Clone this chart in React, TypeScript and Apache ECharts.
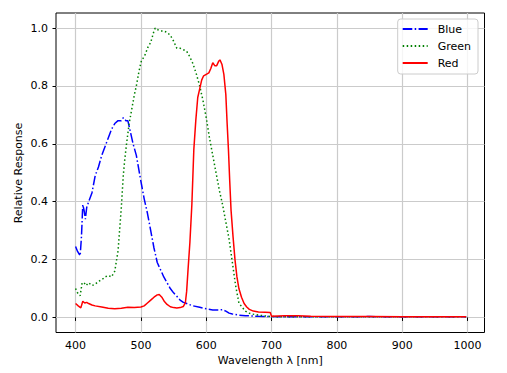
import React, { useEffect, useRef } from "react";
import * as echarts from "echarts";

const seriesNames = ["Blue", "Green", "Red"];
const xTicks = [400, 500, 600, 700, 800, 900, 1000];
const yTicks = [0, 0.2, 0.4, 0.6, 0.8, 1.0];
const yTitle = "Relative Response";

const blueWavelengths = [400,403,407,409,411,413,415,417,420,425,430,435,440,445,450,455,460,465,470,473,477,480,483,488,493,500,505,510,515,520,525,530,535,540,545,550,555,560,565,570,580,590,600,610,620,625,630,635,640,645,650,660,670,680,700,750,800,850,900,950,998];
const blueValues = [0.245,0.228,0.213,0.28,0.39,0.37,0.34,0.38,0.40,0.43,0.49,0.52,0.56,0.59,0.62,0.65,0.67,0.68,0.68,0.69,0.68,0.68,0.65,0.60,0.56,0.47,0.41,0.36,0.30,0.24,0.19,0.165,0.14,0.12,0.10,0.085,0.073,0.06,0.052,0.048,0.04,0.035,0.03,0.026,0.026,0.027,0.022,0.015,0.012,0.01,0.008,0.006,0.005,0.004,0.003,0.002,0.002,0.003,0.002,0.002,0.002];

const greenWavelengths = [400,403,407,410,413,416,420,425,430,435,440,445,450,455,460,465,470,473,475,478,482,486,490,493,497,501,505,511,515,520,522,525,530,535,540,545,550,555,560,565,570,575,580,585,590,595,600,605,610,615,620,625,630,635,640,645,650,655,660,665,670,680,690,700,750,800,850,900,950,998];
const greenValues = [0.10,0.085,0.075,0.12,0.12,0.11,0.12,0.11,0.115,0.125,0.13,0.14,0.145,0.14,0.16,0.23,0.38,0.49,0.54,0.60,0.67,0.72,0.77,0.80,0.85,0.89,0.90,0.935,0.95,0.99,1.0,0.995,0.99,0.99,0.985,0.975,0.955,0.93,0.93,0.925,0.92,0.90,0.875,0.84,0.80,0.75,0.69,0.62,0.56,0.50,0.44,0.39,0.33,0.27,0.19,0.11,0.05,0.035,0.022,0.015,0.012,0.008,0.005,0.003,0.002,0.002,0.002,0.002,0.002,0.002];

const redWavelengths = [400,404,408,411,414,417,420,425,430,440,450,460,470,480,490,500,505,510,515,520,525,528,532,536,540,545,550,555,560,565,568,570,572,575,578,581,584,587,590,593,596,600,604,607,610,613,616,619,621,624,627,630,632,634,636,638,641,644,647,650,654,658,662,666,672,680,690,698,700,720,740,760,800,850,900,950,998];
const redValues = [0.048,0.04,0.033,0.056,0.05,0.052,0.048,0.043,0.04,0.036,0.032,0.03,0.032,0.035,0.034,0.036,0.04,0.05,0.06,0.07,0.078,0.079,0.07,0.055,0.045,0.037,0.034,0.033,0.034,0.038,0.05,0.09,0.16,0.26,0.39,0.58,0.68,0.76,0.79,0.82,0.835,0.84,0.845,0.86,0.88,0.87,0.87,0.885,0.89,0.875,0.84,0.77,0.67,0.58,0.47,0.37,0.28,0.20,0.14,0.10,0.07,0.048,0.036,0.028,0.022,0.019,0.018,0.017,0.004,0.006,0.006,0.004,0.003,0.003,0.002,0.002,0.002];

const zip = (xs: number[], ys: number[]) => xs.map((x, i) => [x, ys[i]]);

const FONT = "DejaVu Sans";

export default function App() {
  const ref = useRef<HTMLDivElement>(null);
  useEffect(() => {
    if (!ref.current) return;
    const chart = echarts.init(ref.current, null, { renderer: "svg" });
    const lw = 1.5;
    chart.setOption({
      animation: false,
      backgroundColor: "#ffffff",
      textStyle: { fontFamily: FONT },
      grid: {
        left: 56,
        right: 22.5,
        top: 13,
        bottom: 40.5,
        show: true,
        borderColor: "#000000",
        borderWidth: 1,
        backgroundColor: "transparent",
      },
      graphic: [
        {
          type: "text",
          x: 18,
          y: 173,
          rotation: Math.PI / 2,
          style: {
            text: yTitle,
            fontFamily: FONT,
            fontSize: 11,
            fill: "#000000",
            align: "center",
            verticalAlign: "middle",
          },
        },
      ],
      legend: {
        data: seriesNames,
        orient: "vertical",
        right: 29,
        top: 19,
        itemWidth: 25,
        itemHeight: 12,
        itemGap: 5,
        padding: [4, 7, 5, 4],
        borderColor: "#cccccc",
        borderWidth: 1,
        borderRadius: 3,
        backgroundColor: "rgba(255,255,255,0.8)",
        itemStyle: { opacity: 0 },
        textStyle: {
          fontFamily: FONT,
          fontSize: 11,
          color: "#000000",
          lineHeight: 12,
          padding: [0, 0, 0, 5],
        },
      },
      xAxis: {
        type: "value",
        min: 370,
        max: 1026,
        name: "Wavelength \u03bb [nm]",
        nameLocation: "middle",
        nameGap: 21,
        nameTextStyle: { fontFamily: FONT, fontSize: 11, color: "#000000" },
        axisLine: { show: false },
        axisTick: {
          show: true,
          customValues: xTicks,
          inside: false,
          length: 3.5,
          lineStyle: { color: "#000000", width: 1 },
        },
        axisLabel: {
          customValues: xTicks,
          margin: 7,
          fontFamily: FONT,
          fontSize: 11,
          color: "#000000",
          formatter: (v: number) => String(v),
        },
        splitLine: { show: true, lineStyle: { color: "#cbcbcb", width: 1.2 } },
      },
      yAxis: {
        type: "value",
        min: -0.052,
        max: 1.052,
        axisLine: { show: false },
        axisTick: {
          show: true,
          customValues: yTicks,
          inside: false,
          length: 3.5,
          lineStyle: { color: "#000000", width: 1 },
        },
        axisLabel: {
          customValues: yTicks,
          margin: 8,
          fontFamily: FONT,
          fontSize: 11,
          color: "#000000",
          formatter: (v: number) => v.toFixed(1),
        },
        splitLine: { show: true, lineStyle: { color: "#cbcbcb", width: 1.2 } },
      },
      series: [
        {
          name: "Blue",
          type: "line",
          symbol: "none",
          showSymbol: false,
          data: zip(blueWavelengths, blueValues),
          lineStyle: { color: "#0000ff", width: lw, type: [9.6, 2.4, 1.5, 2.4] },
          itemStyle: { color: "#0000ff" },
          z: 3,
        },
        {
          name: "Green",
          type: "line",
          symbol: "none",
          showSymbol: false,
          data: zip(greenWavelengths, greenValues),
          lineStyle: { color: "#008000", width: lw, type: [1.5, 2.5] },
          itemStyle: { color: "#008000" },
          z: 4,
        },
        {
          name: "Red",
          type: "line",
          symbol: "none",
          showSymbol: false,
          data: zip(redWavelengths, redValues),
          lineStyle: { color: "#ff0000", width: lw, type: "solid" },
          itemStyle: { color: "#ff0000" },
          z: 5,
        },
      ],
    });
    return () => chart.dispose();
  }, []);
  return (
    <div
      ref={ref}
      style={{ position: "fixed", left: 0, top: 0, width: 507, height: 373, background: "#fff" }}
    />
  );
}
